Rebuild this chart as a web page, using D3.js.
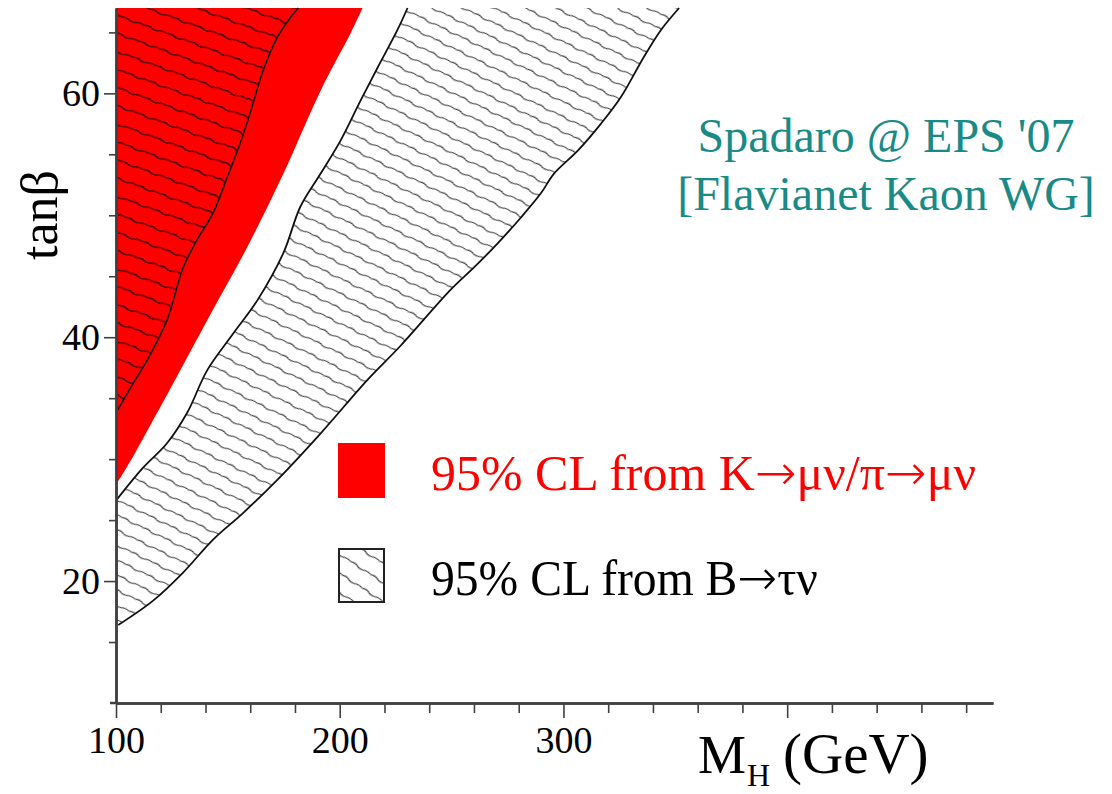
<!DOCTYPE html>
<html>
<head>
<meta charset="utf-8">
<script src="https://cdn.jsdelivr.net/npm/d3@7"></script>
<style>
  html, body { margin: 0; padding: 0; background: #fff; }
  svg { display: block; }
  text { font-family: "Liberation Serif", "Times New Roman", serif; }
</style>
</head>
<body>
<svg id="chart" width="1112" height="794"></svg>
<script>
// ---- Data ----
// Axis domains / ticks
const xDomain = [100, 492];
const yDomain = [10, 67];
const xMajorTicks = [100, 200, 300, 400];
const xTickLabels = ["100", "200", "300", ""];
const xMinorTicks = [120, 140, 160, 180, 220, 240, 260, 280, 320, 340, 360, 380, 420, 440, 460, 480];
const yMajorTicks = [20, 40, 60];
const yTickLabels = ["20", "40", "60"];
const yMinorTicks = [15, 25, 30, 35, 45, 50, 55, 65];

// K->mu nu / pi->mu nu 95% CL : outer (solid red) boundary
const kOuterM  = [100, 107.6, 116.6, 126.4, 140.8, 158.7, 174.8, 191.4, 204.8, 210.2];
const kOuterTb = [27.9, 30.2, 33.2, 36.5, 41.4, 47.4, 53.4, 60.2, 64.9, 67.0];
// inner (hatched red) boundary
const kInnerM  = [100, 107.6, 113.9, 122.8, 130.0, 136.3, 143.4, 149.7, 155.5, 160.0, 165.8, 172.1, 177.9, 181.5];
const kInnerTb = [33.8, 36.2, 38.1, 41.4, 45.7, 48.0, 50.2, 53.1, 55.9, 58.4, 61.9, 64.6, 66.2, 67.0];

// B->tau nu 95% CL band: upper-left and lower-right boundaries
const bUpperM  = [100, 112.1, 122.8, 131.8, 140.8, 152.4, 163.1, 174.8, 182.4, 191.4, 200.3, 209.3, 216.9, 225.8, 230.3];
const bUpperTb = [26.6, 29.3, 31.3, 33.8, 37.3, 40.3, 43.0, 46.9, 50.7, 53.4, 56.1, 59.4, 62.1, 65.2, 67.0];
const bLowerM  = [101, 116.6, 130.0, 143.4, 156.9, 172.1, 191.4, 212.4, 227.2, 249.6, 259.9, 270.6, 280.9, 289.9, 295.7, 306.4, 316.7, 325.7, 336.0, 343.6, 351.7];
const bLowerTb = [16.4, 18.4, 20.7, 23.4, 25.6, 28.3, 32.1, 36.5, 39.3, 43.9, 45.7, 47.7, 49.8, 51.8, 53.4, 55.3, 57.5, 59.7, 63.0, 65.2, 67.0];

// legend labels split into [text, isArrow] pieces
const legendPiecesK = [["95% CL from K", false], ["\u2192", true], ["\u03bc\u03bd/\u03c0", false], ["\u2192", true], ["\u03bc\u03bd", false]];
const legendPiecesB = [["95% CL from B", false], ["\u2192", true], ["\u03c4\u03bd", false]];
const creditLines = ["Spadaro @ EPS '07", "[Flavianet Kaon WG]"];

// ---- Drawing ----
const svg = d3.select("#chart");
const x = d3.scaleLinear().domain(xDomain).range([116, 993]);
const y = d3.scaleLinear().domain(yDomain).range([703, 8]);

const zip = (ms, ts) => ms.map((m, i) => [m, ts[i]]);
const kOuter = zip(kOuterM, kOuterTb);
const kInner = zip(kInnerM, kInnerTb);
const bUpper = zip(bUpperM, bUpperTb);
const bLower = zip(bLowerM, bLowerTb);

const curve = d3.line().x(d => x(d[0])).y(d => y(d[1])).curve(d3.curveCatmullRom.alpha(0.5));
const pt = d => `${x(d[0])},${y(d[1])}`;

// patterns
const defs = svg.append("defs");
function wavyPattern(id, spacing, angle, color, width) {
  const W = 24;
  const p = defs.append("pattern")
    .attr("id", id)
    .attr("patternUnits", "userSpaceOnUse")
    .attr("width", W).attr("height", spacing)
    .attr("patternTransform", `rotate(${angle})`);
  const m = spacing / 2;
  p.append("path")
    .attr("d", `M0,${m} C3,${m - 1.1} 6,${m - 1.1} 8,${m} S13,${m + 1.1} 16,${m} S21,${m - 1.1} 24,${m}`)
    .attr("fill", "none").attr("stroke", color).attr("stroke-width", width);
}
wavyPattern("hatchB", 13.5, 26, "#3a3a3a", 1.1);
wavyPattern("hatchK", 17, 20, "#1a0000", 1.2);
wavyPattern("hatchLeg", 16, 33, "#3a3a3a", 1.1);

const yTop = yDomain[1];
const xLeft = xDomain[0];

// red outer region
svg.append("path")
  .attr("d", curve(kOuter) + "L" + pt([xLeft, yTop]) + "Z")
  .attr("fill", "#ff0000");

// inner hatched red region
svg.append("path")
  .attr("d", curve(kInner) + "L" + pt([xLeft, yTop]) + "Z")
  .attr("fill", "url(#hatchK)");
svg.append("path")
  .attr("d", curve(kInner))
  .attr("fill", "none").attr("stroke", "#111").attr("stroke-width", 1.6);

// B -> tau nu band
const bLowerRev = bLower.slice().reverse();
svg.append("path")
  .attr("d", curve(bUpper) + "L" + curve(bLowerRev).slice(1) + "L" + pt([xLeft, bLowerTb[0]]) + "Z")
  .attr("fill", "url(#hatchB)");
svg.append("path").attr("d", curve(bUpper))
  .attr("fill", "none").attr("stroke", "#111").attr("stroke-width", 1.8);
svg.append("path").attr("d", curve(bLower))
  .attr("fill", "none").attr("stroke", "#111").attr("stroke-width", 1.8);

// axes
const axisColor = "#404040";
function styleAxis(g) {
  g.select(".domain").attr("stroke", axisColor).attr("stroke-width", 2.5);
  g.selectAll(".tick line").attr("stroke", axisColor).attr("stroke-width", 1.6);
  g.selectAll("text").attr("fill", "#000").attr("font-size", 38)
    .attr("font-family", "'Liberation Serif', serif");
}
const gxMinor = svg.append("g").attr("transform", `translate(0,${y(yDomain[0])})`)
  .call(d3.axisBottom(x).tickValues(xMinorTicks).tickSize(10).tickSizeOuter(0).tickFormat(""));
styleAxis(gxMinor);
const gxMajor = svg.append("g").attr("transform", `translate(0,${y(yDomain[0])})`)
  .call(d3.axisBottom(x).tickValues(xMajorTicks).tickSize(15).tickSizeOuter(0).tickPadding(8)
    .tickFormat((d, i) => xTickLabels[i]));
styleAxis(gxMajor);

const gyMinor = svg.append("g").attr("transform", `translate(${x(xDomain[0])},0)`)
  .call(d3.axisLeft(y).tickValues(yMinorTicks).tickSize(7).tickSizeOuter(0).tickFormat(""));
styleAxis(gyMinor);
const gyMajor = svg.append("g").attr("transform", `translate(${x(xDomain[0])},0)`)
  .call(d3.axisLeft(y).tickValues(yMajorTicks).tickSize(12).tickSizeOuter(0).tickPadding(4)
    .tickFormat((d, i) => yTickLabels[i]));
styleAxis(gyMajor);
// small stub of x axis left of y axis
svg.append("line").attr("x1", 110).attr("x2", 117).attr("y1", y(yDomain[0])).attr("y2", y(yDomain[0]))
  .attr("stroke", axisColor).attr("stroke-width", 2.5);

// axis titles
svg.append("text")
  .attr("transform", "translate(57,215) rotate(-90)")
  .attr("text-anchor", "middle")
  .attr("font-size", 52)
  .text("tan\u03b2");

svg.append("text").attr("x", 698).attr("y", 773).attr("font-size", 54).text("M");
svg.append("text").attr("x", 747).attr("y", 786).attr("font-size", 32).text("H");
svg.append("text").attr("x", 783).attr("y", 773).attr("font-size", 57).text("(GeV)");

// credit text
svg.selectAll("text.credit").data(creditLines).join("text")
  .attr("class", "credit")
  .attr("x", 886)
  .attr("y", (d, i) => 152 + i * 58)
  .attr("text-anchor", "middle")
  .attr("font-size", 48)
  .attr("fill", "#1a8a87")
  .text(d => d);

// legend
svg.append("rect").attr("x", 338).attr("y", 443).attr("width", 47).attr("height", 55).attr("fill", "#ff0000");
svg.append("rect").attr("x", 339).attr("y", 549).attr("width", 45).attr("height", 53)
  .attr("fill", "url(#hatchLeg)").attr("stroke", "#222").attr("stroke-width", 2);

function legendText(pieces, yPos, color, len) {
  const t = svg.append("text").attr("x", 0).attr("y", 0).attr("font-size", 50)
    .attr("fill", color);
  pieces.forEach(([s, arrow]) => {
    const ts = t.append("tspan").text(s);
    if (arrow) ts.attr("font-family", "'Noto Sans', 'DejaVu Sans', sans-serif").attr("font-weight", 300);
  });
  const w = t.node().getComputedTextLength();
  t.attr("transform", `translate(431,${yPos}) scale(${len / w},1)`);
}
legendText(legendPiecesK, 490, "#ff0000", 545);
legendText(legendPiecesB, 595, "#000", 387);
</script>
</body>
</html>
